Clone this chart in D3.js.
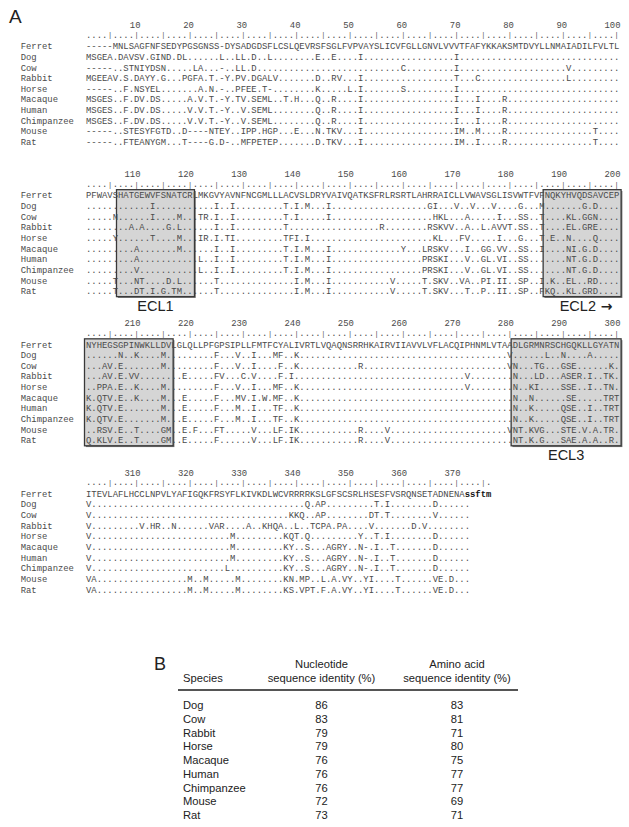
<!DOCTYPE html>
<html><head><meta charset="utf-8">
<script src="https://cdn.jsdelivr.net/npm/d3@7"></script>
<style>body{margin:0;background:#fff}</style>
</head><body><svg id="c" width="629" height="827"></svg>
<script>
// ---------------- DATA ----------------
const species = ["Ferret","Dog","Cow","Rabbit","Horse","Macaque","Human","Chimpanzee","Mouse","Rat"];
const blockLengths = [100,100,100,76];
const rowLengths = [100,100,100,72];
const tickLabels = [
  [10,20,30,40,50,60,70,80,90,100],
  [110,120,130,140,150,160,170,180,190,200],
  [210,220,230,240,250,260,270,280,290,300],
  [310,320,330,340,350,360,370]
];
// each row: "position:residues" tokens (positions inside the block), dots elsewhere
const block1 = [
  "1:-----MNLSAGFNFSEDYPGSGNSS-DYSADGDSFLCSLQEVRSFSGLFVPVAYSLICVFGLLGNVLVVVTFAFYKKAKSMTDVYLLNMAIADILFVLTL",
  "1:MSGEA 7:DAVSV 13:GIND 18:DL 26:L 29:LL 32:D 35:L 44:E 47:E 52:I 70:I",
  "1:----- 8:STNIYDSN 21:LA 26:- 29:LL 32:D 60:C 70:I 91:V",
  "1:MGEEAV 8:S 10:DAYY 15:G 19:PGFA 24:T 26:-Y 29:PV 32:DGALV 44:D 47:RV 52:I 70:T 74:C 91:L",
  "1:----- 8:F 10:NSYEL 22:A 24:N 26:- 29:PFEE 34:T- 44:K 50:L 52:I 60:S 70:I",
  "1:MSGES 8:F 10:DV 13:DS 20:A 22:V 24:T 26:-Y 29:TV 32:SEML 38:T 40:H 44:Q 47:R 52:I 70:I 74:I 79:R",
  "1:MSGES 8:F 10:DV 13:DS 20:V 22:V 24:T 26:-Y 30:V 32:SEML 44:Q 47:R 52:I 70:I 74:I 79:R",
  "1:MSGES 8:F 10:DV 13:DS 20:V 22:V 24:T 26:-Y 30:V 32:SEML 44:Q 47:R 52:I 70:I 74:I 79:R",
  "1:----- 8:STESYFGTD 19:D---- 24:NTEY 30:IPP 34:HGP 40:E 44:N 46:TKV 52:I 70:IM 74:M 79:R 96:T",
  "1:----- 8:FTEANYGM 19:T---- 24:G 26:D- 30:MFPETEP 44:D 46:TKV 52:I 70:IM 74:I 79:R 96:T"
];
const block2 = [
  "1:PFWAVSHATGEWVFSNATCRLMKGVYAVNFNCGMLLLACVSLDRYVAIVQATKSFRLRSRTLAHRRAICLLVWAVSGLISVWTFVFNQKYHVQDSAVCEP",
  "13:I 25:I 28:I 38:T 40:I 42:M 46:I 65:GI 70:V 73:V 77:V 82:G 86:M 94:G 96:D",
  "6:N 13:I 18:M 22:TR 25:I 28:I 38:T 40:I 46:I 66:HKL 72:A 78:I 82:SS 86:T 91:KL 94:GGN",
  "9:A 11:A 16:G 18:L 25:I 28:I 38:T 56:R 65:RSKVV 72:A 75:L 77:AVVT 82:SS 86:T 91:EL 94:GRE",
  "6:Y 13:T 18:M 22:IR 25:I 27:TI 38:TFI 42:I 66:KL 71:FV 78:I 82:G 86:T 88:E 91:N 96:Q",
  "10:A 18:M 25:I 28:I 38:T 40:I 42:M 46:I 60:Y 64:LRSKV 72:I 75:GG 78:VV 82:SS 86:I 91:NI 94:G 96:D",
  "10:A 22:L 25:I 28:I 38:T 40:I 42:M 46:I 64:PRSKI 72:V 75:GL 78:VI 82:SS 91:NT 94:G 96:D",
  "10:V 22:L 25:I 28:I 38:T 40:I 42:M 46:I 64:PRSKI 72:V 75:GL 78:VI 82:SS 91:NT 94:G 96:D",
  "6:T 10:NT 16:D 18:L 25:T 40:I 42:M 46:I 58:V 64:T 66:SKV 71:VA 75:PI 78:II 82:SP 86:I 88:K 91:EL 95:RD",
  "6:T 10:DT 13:I 15:G 17:TM 25:T 40:I 42:M 46:I 58:V 64:T 66:SKV 72:T 75:P 78:II 82:SP 86:F 87:KQ 91:KL 94:GRD"
];
const block3 = [
  "1:NYHEGSGPINWKLLDVLGLQLLPFGPSIPLLFMTFCYALIVRTLVQAQNSRRHKAIRVIIAVVLVFLACQIPHNMLVTAADLGRMNRSCHGQKLLGYATN",
  "7:N 10:K 15:M 25:F 29:V 32:I 36:MF 40:K 80:V 87:L 90:N 95:A",
  "4:AV 7:E 15:M 25:F 29:V 32:I 37:F 40:K 52:R 80:V 81:N 85:TG 90:GSE 99:K",
  "4:AV 7:E 9:VV 19:E 25:FV 30:C 32:V 37:F 39:I 72:V 81:N 85:LD 90:ASER 95:I 98:TK",
  "3:PPA 7:E 10:K 15:M 25:F 29:V 32:I 36:MF 40:K 72:V 81:N 84:KI 90:SSE 95:I 98:TN",
  "1:K 3:QTV 7:E 10:K 15:M 19:E 25:F 29:MV 32:I 34:W 36:MF 40:K 81:N 84:N 91:SE 98:TRT",
  "1:K 3:QTV 7:E 15:M 19:E 25:F 29:M 32:I 36:TF 40:K 81:N 84:K 90:QSE 95:I 98:TRT",
  "1:K 3:QTV 7:E 15:M 19:E 25:F 29:M 32:I 36:TF 40:K 81:N 84:K 90:QSE 95:I 98:TRT",
  "3:RSV 7:E 10:T 15:GM 19:E 21:F 25:FT 32:V 36:LF 39:IK 52:R 57:V 80:V 81:NT 84:KVG 90:STE 94:V 96:A 98:TR",
  "1:Q 3:KLV 7:E 10:T 15:GM 19:E 25:F 32:V 36:LF 39:IK 52:R 57:V 81:NT 84:K 86:G 90:SAE 94:A 96:A 99:R"
];
const block4 = [
  "1:ITEVLAFLHCCLNPVLYAFIGQKFRSYFLKIVKDLWCVRRRRKSLGFSCSRLHSESFVSRQNSETADNENA",
  "1:V 42:Q 44:AP 55:T 57:I 66:D",
  "1:V 39:KKQ 44:AP 54:DT 57:T 66:V",
  "1:V 11:V 13:HR 17:N 24:VAR 31:A 34:KHQA 40:L 43:TCPA 48:PA 54:V 62:D 64:V",
  "1:V 28:M 38:KQT 42:Q 52:Y 55:T 57:I 66:D",
  "1:V 28:M 38:KY 42:S 46:AGRY 52:N- 55:I 58:T 66:D",
  "1:V 28:M 38:KY 42:S 46:AGRY 52:N- 55:I 58:T 66:D",
  "1:V 27:L 38:KY 42:S 46:AGRY 52:N- 55:I 58:T 66:D",
  "1:VA 20:M 23:M 29:M 38:KN 41:MP 45:L 47:A 49:VY 53:YI 59:T 66:VE 69:D",
  "1:VA 20:M 23:M 29:M 38:KS 41:VPT 45:F 47:A 49:VY 53:YI 59:T 66:VE 69:D"
];
const ferretTail = "ssftm";
// extracellular loop regions: [label, arrow, block index, first column, last column]
const eclRegions = [["ECL1","",1,7,20],["ECL2","\u2192",1,87,100],["","",2,1,16],["ECL3","",2,81,100]];

const tableSpecies = ["Dog","Cow","Rabbit","Horse","Macaque","Human","Chimpanzee","Mouse","Rat"];
const nucleotideIdentity = [86,83,79,79,76,76,76,72,73];
const aminoAcidIdentity = [83,81,71,80,75,77,77,69,71];

// ---------------- DRAW ----------------
const blocks = [block1, block2, block3, block4];
const svg = d3.select("#c");
svg.append("rect").attr("width",629).attr("height",827).attr("fill","#fff");
const mono = '"Liberation Mono","DejaVu Sans Mono",monospace';
const sans = '"Liberation Sans",Arial,Helvetica,sans-serif';
const seqColor = "#4a4a4a";

const col = d3.scaleLinear().domain([0,100]).range([86, 86+100*5.333]);
const blockY = d3.scaleLinear().domain([0,3]).range([46, 493.5]);
const rowY = d3.scaleLinear().domain([0,9]).range([0, 9*10.65]);

function buildRow(spec, len) {
  const arr = new Array(len).fill(".");
  spec.split(" ").forEach(tok => {
    const k = tok.indexOf(":");
    const p = +tok.slice(0,k), s = tok.slice(k+1);
    for (let j=0;j<s.length;j++) if (p-1+j < len) arr[p-1+j] = s[j];
  });
  return arr;
}

// label A
svg.append("text").attr("x",9).attr("y",23).attr("font-family",sans).attr("font-size",19).attr("fill","#222").text("A");

blocks.forEach((blk, b) => {
  const y0 = blockY(b);
  const g = svg.append("g");
  // ECL boxes
  eclRegions.filter(e => e[2]===b).forEach(e => {
    const x0 = col(e[3]-1)-1.5, x1 = col(e[4])+1.8;
    const yt = y0 - 5.5, yb = y0 + rowY(9) + 5.6;
    g.append("rect").attr("x",x0+1.3).attr("y",yt+1.3).attr("width",x1-x0).attr("height",yb-yt).attr("fill","#777");
    g.append("rect").attr("x",x0).attr("y",yt).attr("width",x1-x0).attr("height",yb-yt)
      .attr("fill","#d5d5d5").attr("stroke","#3a3a3a").attr("stroke-width",1.3);
    if (e[0]) {
      const shift = e[1] ? 4 : 0;
      const lt = g.append("text").attr("x",(x0+x1)/2+shift).attr("y",y0+rowY(9)+20)
        .attr("text-anchor","middle").attr("font-family",sans).attr("font-size",14.5).attr("fill","#222");
      lt.append("tspan").text(e[0]);
      if (e[1]) lt.append("tspan").attr("font-family",'"DejaVu Sans",sans-serif').attr("font-weight","bold").attr("font-size",14).text(" " + e[1]);
    }
  });
  // tick labels
  g.selectAll("text.tick").data(tickLabels[b]).join("text").attr("class","tick")
    .attr("x", d => col(d - b*100) + 1.2).attr("y", y0 - 18)
    .attr("text-anchor","end").attr("font-family",mono).attr("font-size",8.9).attr("fill",seqColor)
    .text(d => d);
  // ruler
  const ruler = d3.range(blockLengths[b]).map(i => ((i+1)%5===0) ? "|" : ".");
  g.selectAll("text.rul").data(ruler).join("text").attr("class","rul")
    .attr("x",(d,i)=>col(i+0.5)).attr("y", (d)=> d==="|" ? y0-8.6 : y0-8.3)
    .attr("text-anchor","middle").attr("font-family",mono).attr("font-size",d=>d==="|"?7:8.9)
    .attr("fill",seqColor).text(d=>d);
  // rows
  blk.forEach((spec, r) => {
    const y = y0 + rowY(r) + 3.2;
    g.append("text").attr("x",20.7).attr("y",y).attr("font-family",mono).attr("font-size",8.9)
      .attr("fill",seqColor).text(species[r]);
    let chars;
    if (r===0) {
      chars = buildRow(spec, blockLengths[b]===76 ? 71 : blockLengths[b]).map(c=>({c,bold:false}));
      if (b===3) ferretTail.split("").forEach(c=>chars.push({c,bold:true}));
    } else {
      chars = buildRow(spec, rowLengths[b]).map(c=>({c,bold:false}));
    }
    g.append("g").selectAll("text").data(chars).join("text")
      .attr("x",(d,i)=>col(i+0.5)).attr("y",y)
      .attr("text-anchor","middle").attr("font-family",mono).attr("font-size",8.9)
      .attr("font-weight",d=>d.bold?"bold":"normal")
      .attr("fill",d=>d.bold?"#111":seqColor).text(d=>d.c);
  });
});

// ---------------- TABLE B ----------------
const t = svg.append("g").attr("font-family",sans).attr("fill","#222");
t.append("text").attr("x",154).attr("y",669.5).attr("font-size",18).text("B");
t.append("text").attr("x",183).attr("y",681.5).attr("font-size",11.2).text("Species");
const colNuc = 321.5, colAA = 457;
[["Nucleotide",colNuc],["Amino acid",colAA]].forEach(([s,x])=>{
  t.append("text").attr("x",x).attr("y",667.5).attr("text-anchor","middle").attr("font-size",11.2).text(s);
  t.append("text").attr("x",x).attr("y",681.5).attr("text-anchor","middle").attr("font-size",11.2).text("sequence identity (%)");
});
svg.append("line").attr("x1",178).attr("x2",518).attr("y1",690).attr("y2",690).attr("stroke","#555").attr("stroke-width",1.8);
const ty = d3.scaleLinear().domain([0,8]).range([705,815]);
tableSpecies.forEach((s,i)=>{
  const y = ty(i)+4;
  t.append("text").attr("x",183).attr("y",y).attr("font-size",11.2).text(s);
  t.append("text").attr("x",colNuc).attr("y",y).attr("text-anchor","middle").attr("font-size",11.2).text(nucleotideIdentity[i]);
  t.append("text").attr("x",colAA).attr("y",y).attr("text-anchor","middle").attr("font-size",11.2).text(aminoAcidIdentity[i]);
});
</script>
</body></html>
